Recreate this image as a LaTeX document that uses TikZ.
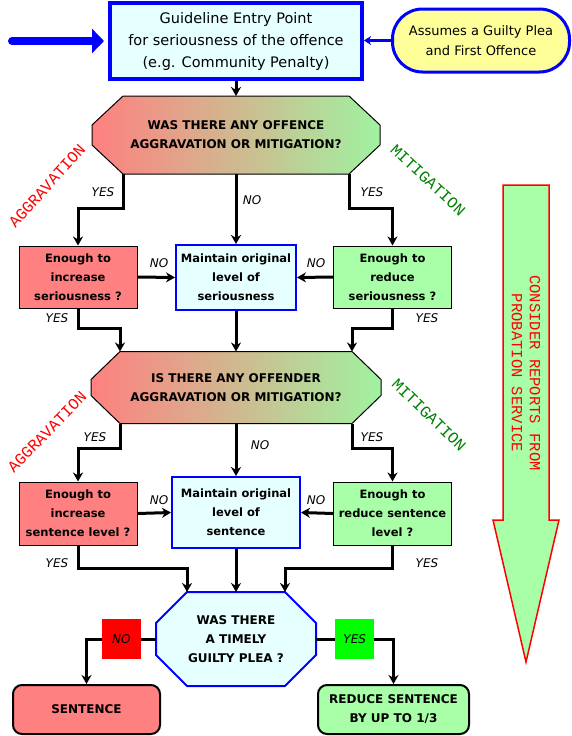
\documentclass[tikz,border=0pt]{standalone}
\usepackage{fontspec}
\setmainfont{DejaVu Sans}
\newfontfamily\handfont{Liberation Mono}
\usepackage{xcolor}
\usepackage{tikz}
\usetikzlibrary{arrows.meta, positioning, calc, backgrounds}

\definecolor{paleblue}{HTML}{E6FFFF}
\definecolor{salmonred}{HTML}{FF8080}
\definecolor{mint}{HTML}{A8FFA8}
\definecolor{octgreen}{HTML}{A0F2A0}
\definecolor{cream}{HTML}{FFFF99}
\definecolor{leafgreen}{HTML}{008000}

\begin{document}
\begin{tikzpicture}[x=1pt, y=-1pt,
		wire/.style={line width=3pt, -{Stealth[length=9pt,width=10pt]}},
		entry/.style={draw=blue, line width=4pt, fill=paleblue, minimum width=252pt, minimum height=76pt, align=center, font=\fontsize{14.5}{22}\selectfont},
		pill/.style={draw=blue, line width=3pt, fill=cream, rounded corners=30pt, minimum width=177pt, minimum height=63pt, align=center, font=\fontsize{13}{20}\selectfont},
		quest/.style={inner sep=0pt, outer sep=0pt, align=center, font=\bfseries\fontsize{12}{19}\selectfont},
		enough/.style={draw=black, line width=1pt, minimum width=118pt, minimum height=62pt, inner sep=2pt, align=center, font=\bfseries\fontsize{11.5}{19}\selectfont},
		keep/.style={draw=blue, line width=2pt, fill=paleblue, minimum width=120pt, minimum height=65pt, inner sep=2pt, align=center, font=\bfseries\fontsize{11.5}{19}\selectfont},
		final/.style={draw=black, line width=2pt, rounded corners=9pt, minimum height=49pt, align=center, font=\bfseries\fontsize{12}{19}\selectfont},
		ans/.style={inner sep=0pt, font=\itshape\fontsize{12}{14}\selectfont},
		tag/.style={minimum width=39pt, minimum height=40pt, inner sep=0pt, font=\itshape\fontsize{12}{14}\selectfont},
		hand/.style={inner sep=0pt, font=\handfont\fontsize{16}{18}\selectfont}]
			\useasboundingbox (0,0) rectangle (572,736);
			% Entry point:
			\node[entry] (top) at (236,41) {Guideline Entry Point\\for seriousness of the offence\\(e.g. Community Penalty)};
			\node[pill] (plea) at (481,40.5) {Assumes a Guilty Plea\\and First Offence};
			\coordinate (src) at (12,41);
			\draw[line width=8pt, blue, line cap=round, -{Triangle[length=12pt,width=24pt]}, shorten >=4pt] (src) -- (top.west);
			\draw[line width=2.5pt, blue, -{Stealth[length=7pt,width=9pt]}] (plea.west) -- (plea.west -| top.east);
			% Questions and boxes:
			\node[quest, minimum width=226pt, minimum height=78pt] (q1) at (236,135) {WAS THERE ANY OFFENCE\\AGGRAVATION OR MITIGATION?};
			\node[enough, fill=salmonred] (e1l) at (78,277) {Enough to\\increase\\seriousness ?};
			\node[keep] (m1) at (236,277.5) {Maintain original\\level of\\seriousness};
			\node[enough, fill=mint] (e1r) at (392.5,277) {Enough to\\reduce\\seriousness ?};
			\node[quest, minimum width=232pt, minimum height=72pt] (q2) at (236,387.5) {IS THERE ANY OFFENDER\\AGGRAVATION OR MITIGATION?};
			\node[enough, fill=salmonred, minimum height=63pt] (e2l) at (78,513.5) {Enough to\\increase\\sentence level ?};
			\node[keep, minimum width=128pt, minimum height=71pt] (m2) at (236,512.5) {Maintain original\\level of\\sentence};
			\node[enough, fill=mint, minimum height=63pt] (e2r) at (392.5,513.5) {Enough to\\reduce sentence\\level ?};
			\node[quest, minimum width=98pt, minimum height=94pt] (q3) at (236,639) {WAS THERE\\A TIMELY\\GUILTY PLEA ?};
			\node[final, fill=salmonred, minimum width=147pt] (sent) at (86.5,709.5) {SENTENCE};
			\node[final, fill=mint, minimum width=151pt] (redu) at (393.5,709.5) {REDUCE SENTENCE\\BY UP TO 1/3};
			% Octagons:
			\begin{scope}[on background layer]
				\fill[white] (0,0) rectangle (572,736);
				\shadedraw[left color=salmonred, right color=octgreen, draw=black, line width=1pt] (q1.north west) -- (q1.north east) -- ++(31,29) -- ($(q1.south east)+(31,-29)$) -- (q1.south east) -- (q1.south west) -- ++(-31,-29) -- ($(q1.north west)+(-31,29)$) -- cycle;
				\shadedraw[left color=salmonred, right color=octgreen, draw=black, line width=1pt] (q2.north west) -- (q2.north east) -- ++(29,28) -- ($(q2.south east)+(29,-28)$) -- (q2.south east) -- (q2.south west) -- ++(-29,-28) -- ($(q2.north west)+(-29,28)$) -- cycle;
				\filldraw[fill=paleblue, draw=blue, line width=2pt] (q3.north west) -- (q3.north east) -- ++(31,31) -- ($(q3.south east)+(31,-31)$) -- (q3.south east) -- (q3.south west) -- ++(-31,-31) -- ($(q3.north west)+(-31,31)$) -- cycle;
			\end{scope}
			% Wires:
			\draw[wire] (top.south) -- (q1.north);
			\draw[wire] (q1.south west) -- ++(0,34) -| (e1l.north);
			\draw[wire] (q1.south) -- (m1.north);
			\draw[wire] (q1.south east) -- ++(0,34) -| (e1r.north);
			\draw[wire] (e1l.east) -- (m1.west);
			\draw[wire] (e1r.west) -- (m1.east);
			\draw[wire] (e1l.south) -- ++(0,20) -| (q2.north west);
			\draw[wire] (m1.south) -- (q2.north);
			\draw[wire] (e1r.south) -- ++(0,20) -| (q2.north east);
			\draw[wire] (q2.south west) -- ++(0,25) -| (e2l.north);
			\draw[wire] (q2.south) -- (m2.north);
			\draw[wire] (q2.south east) -- ++(0,25) -| (e2r.north);
			\draw[wire] (e2l.east) -- (m2.west);
			\draw[wire] (e2r.west) -- (m2.east);
			\draw[wire] (e2l.south) -- ++(0,23) -| (q3.north west);
			\draw[wire] (m2.south) -- (q3.north);
			\draw[wire] (e2r.south) -- ++(0,23) -| (q3.north east);
			\draw[wire] ($(q3.west)+(-31,0)$) -| node[pos=0.25, tag, fill=red] (noq3) {NO} (sent.north);
			\draw[wire] ($(q3.east)+(31,0)$) -| node[pos=0.25, tag, fill=green] (yesq3) {YES} (redu.north);
			% Answers:
			\node[ans] (y1l) at (103,192) {YES};
			\node[ans] (n1m) at (252,200) {NO};
			\node[ans] (y1r) at (372,192) {YES};
			\node[ans] (n1l) at (159,263) {NO};
			\node[ans] (n1r) at (316,263) {NO};
			\node[ans] (y1ls) at (57,318) {YES};
			\node[ans] (y1rs) at (427,318) {YES};
			\node[ans] (y2l) at (95,437) {YES};
			\node[ans] (n2m) at (260,445) {NO};
			\node[ans] (y2r) at (372,437) {YES};
			\node[ans] (n2l) at (159,500) {NO};
			\node[ans] (n2r) at (316,500) {NO};
			\node[ans] (y2ls) at (57,563) {YES};
			\node[ans] (y2rs) at (427,563) {YES};
			% Side words:
			\node[hand, text=red, rotate=48] (agg1) at (47,186) {AGGRAVATION};
			\node[hand, text=leafgreen, rotate=-43] (mit1) at (428,180) {MITIGATION};
			\node[hand, text=red, rotate=46] (agg2) at (47,432) {AGGRAVATION};
			\node[hand, text=leafgreen, rotate=-44] (mit2) at (429,415) {MITIGATION};
			% Probation arrow:
			\draw[red, line width=1.5pt, fill=mint] (503,185) -- (549,185) -- (549,520) -- (559,520) -- (526,662) -- (493,520) -- (503,520) -- cycle;
			\node[text=red, rotate=-90, align=center, font=\handfont\fontsize{15.5}{18}\selectfont] (cons) at (526,373) {CONSIDER REPORTS FROM\\PROBATION SERVICE};
		\end{tikzpicture}
\end{document}
